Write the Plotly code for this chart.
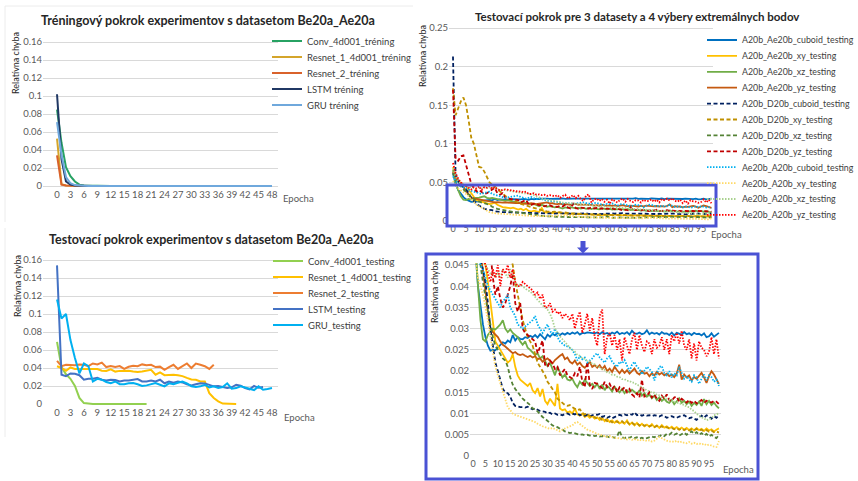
import plotly.graph_objects as go

W, H = 858, 481


def px(x):
    return x / W


def py(y):
    return 1 - y / H


# ---------------- DATA ----------------
left_tick_vals = [0, 3, 6, 9, 12, 15, 18, 21, 24, 27, 30, 33, 36, 39, 42, 45, 48]
left_tick_text = ["0", "3", "6", "9", "12", "15", "18", "21", "24", "27", "30", "33", "36", "39", "42", "45", "48"]
right_tick_vals = [0, 5, 10, 15, 20, 25, 30, 35, 40, 45, 50, 55, 60, 65, 70, 75, 80, 85, 90, 95]
right_tick_text = ["0", "5", "10", "15", "20", "25", "30", "35", "40", "45", "50", "55", "60", "65", "70", "75", "80", "85", "90", "95"]
left_y_vals = [0, 0.02, 0.04, 0.06, 0.08, 0.1, 0.12, 0.14, 0.16]
left_y_text = ["0", "0.02", "0.04", "0.06", "0.08", "0.1", "0.12", "0.14", "0.16"]
tr_y_vals = [0, 0.05, 0.1, 0.15, 0.2, 0.25]
tr_y_text = ["0", "0.05", "0.1", "0.15", "0.2", "0.25"]
br_y_vals = [0, 0.005, 0.01, 0.015, 0.02, 0.025, 0.03, 0.035, 0.04, 0.045]
br_y_text = ["0", "0.005", "0.01", "0.015", "0.02", "0.025", "0.03", "0.035", "0.04", "0.045"]

# Training (top-left), epochs 0..48
conv_train = [0.085, 0.048, 0.021, 0.011, 0.005, 0.0015, 0.0005, 0.0003, 0.0002, 0.0002,
              0.0002, 0.0001, 0.0001, 0.0001, 0.0001, 0.0001, 0.0001, 0.0001, 0.0001, 0.0001,
              0.0001, 0.0001, 0.0001, 0.0001, 0.0001, 0.0001, 0.0001, 0.0001, 0.0001, 0.0001,
              0.0001, 0.0001, 0.0001, 0.0001, 0.0001, 0.0001, 0.0001, 0.0001, 0.0001, 0.0001,
              0.0001, 0.0001, 0.0001, 0.0001, 0.0001, 0.0001, 0.0001, 0.0001, 0.0001]
resnet1_train = [0.0526, 0.002, 0.0006, 0.0003, 0.0002, 0.0001, 0.0001, 0.0001, 0.0001, 0.0001,
                 0.0001, 0.0001, 0.0001, 0.0001, 0.0001, 0.0001, 0.0001, 0.0001, 0.0001, 0.0001,
                 0.0001, 0.0001, 0.0001, 0.0001, 0.0001, 0.0001, 0.0001, 0.0001, 0.0001, 0.0001,
                 0.0001, 0.0001, 0.0001, 0.0001, 0.0001, 0.0001, 0.0001, 0.0001, 0.0001, 0.0001,
                 0.0001, 0.0001, 0.0001, 0.0001, 0.0001, 0.0001, 0.0001, 0.0001, 0.0001]
resnet2_train = [0.034, 0.0015, 0.0006, 0.0003, 0.0002, 0.0001, 0.0001, 0.0001, 0.0001, 0.0001,
                 0.0001, 0.0001, 0.0001, 0.0001, 0.0001, 0.0001, 0.0001, 0.0001, 0.0001, 0.0001,
                 0.0001, 0.0001, 0.0001, 0.0001, 0.0001, 0.0001, 0.0001, 0.0001, 0.0001, 0.0001,
                 0.0001, 0.0001, 0.0001, 0.0001, 0.0001, 0.0001, 0.0001, 0.0001, 0.0001, 0.0001,
                 0.0001, 0.0001, 0.0001, 0.0001, 0.0001, 0.0001, 0.0001, 0.0001, 0.0001]
lstm_train = [0.102, 0.030, 0.005, 0.0015, 0.0005, 0.0002, 0.0001, 0.0001, 0.0001, 0.0001,
              0.0001, 0.0001, 0.0001, 0.0001, 0.0001, 0.0001, 0.0001, 0.0001, 0.0001, 0.0001,
              0.0001, 0.0001, 0.0001, 0.0001, 0.0001, 0.0001, 0.0001, 0.0001, 0.0001, 0.0001,
              0.0001, 0.0001, 0.0001, 0.0001, 0.0001, 0.0001, 0.0001, 0.0001, 0.0001, 0.0001,
              0.0001, 0.0001, 0.0001, 0.0001, 0.0001, 0.0001, 0.0001, 0.0001, 0.0001]
gru_train = [0.071, 0.035, 0.010, 0.003, 0.001, 0.0004, 0.0002, 0.0001, 0.0001, 0.0001,
             0.0001, 0.0001, 0.0001, 0.0001, 0.0001, 0.0001, 0.0001, 0.0001, 0.0001, 0.0001,
             0.0001, 0.0001, 0.0001, 0.0001, 0.0001, 0.0001, 0.0001, 0.0001, 0.0001, 0.0001,
             0.0001, 0.0001, 0.0001, 0.0001, 0.0001, 0.0001, 0.0001, 0.0001, 0.0001, 0.0001,
             0.0001, 0.0001, 0.0001, 0.0001, 0.0001, 0.0001, 0.0001, 0.0001, 0.0001]

# Testing (bottom-left)
conv_test = [0.069, 0.041, 0.033, 0.028, 0.020, 0.0067, 0.001, 0.0002, 0.0001, 0.0001,
             0.0001, 0.0001, 0.0001, 0.0001, 0.0001, 0.0001, 0.0001, 0.0001, 0.0001, 0.0001,
             0.0001]
resnet1_test = [0.042, 0.040, 0.037, 0.0406, 0.039, 0.039, 0.039, 0.0392, 0.039, 0.0388,
                0.037, 0.0368, 0.0386, 0.036, 0.0368, 0.0367, 0.037, 0.036, 0.0355, 0.036,
                0.0368, 0.038, 0.0325, 0.0352, 0.032, 0.0325, 0.0326, 0.032, 0.031, 0.029,
                0.0273, 0.027, 0.025, 0.025, 0.012, 0.0067, 0.003, 0.0005, 0.0001, 0.0001,
                0.0001]
resnet2_test = [0.048, 0.042, 0.0436, 0.0436, 0.043, 0.044, 0.0436, 0.042, 0.045, 0.044,
                0.046, 0.041, 0.0421, 0.041, 0.0421, 0.039, 0.0414, 0.0425, 0.042, 0.044,
                0.043, 0.0436, 0.041, 0.0415, 0.038, 0.041, 0.0436, 0.039, 0.042, 0.045,
                0.040, 0.045, 0.0436, 0.042, 0.039, 0.0436]
lstm_test = [0.154, 0.0325, 0.031, 0.034, 0.0336, 0.032, 0.027, 0.028, 0.028, 0.029,
             0.027, 0.026, 0.027, 0.0266, 0.025, 0.026, 0.026, 0.0266, 0.0277, 0.025,
             0.025, 0.026, 0.025, 0.027, 0.023, 0.025, 0.0236, 0.025, 0.024, 0.022,
             0.0207, 0.022, 0.023, 0.0229, 0.0214, 0.0196, 0.02, 0.0192, 0.0177, 0.0185,
             0.0214, 0.0203, 0.0177, 0.0163, 0.020, 0.018, 0.019]
gru_test = [0.116, 0.095, 0.100, 0.071, 0.051, 0.034, 0.045, 0.042, 0.025, 0.028,
            0.027, 0.0244, 0.023, 0.025, 0.022, 0.022, 0.023, 0.0233, 0.022, 0.020,
            0.0207, 0.022, 0.0233, 0.0214, 0.0196, 0.023, 0.022, 0.0236, 0.025, 0.0229,
            0.0196, 0.0188, 0.0196, 0.0214, 0.0185, 0.0196, 0.0177, 0.0188, 0.023, 0.017,
            0.0177, 0.0196, 0.0185, 0.017, 0.0155, 0.0196, 0.0159, 0.0166, 0.0177]

# Right panels, epochs 0..99
a_cuboid = [0.062, 0.048, 0.040, 0.035, 0.031, 0.028, 0.026, 0.0248, 0.0250, 0.0249,
            0.0255, 0.0262, 0.0268, 0.0265, 0.0272, 0.0268, 0.0285, 0.0272, 0.0280, 0.0276,
            0.0275, 0.0280, 0.0278, 0.0283, 0.0280, 0.0285, 0.0279, 0.0287, 0.0282, 0.0275,
            0.0286, 0.0281, 0.0288, 0.0284, 0.0290, 0.0285, 0.0289, 0.0286, 0.0290, 0.0287,
            0.0291, 0.0288, 0.0292, 0.0286, 0.0290, 0.0289, 0.0291, 0.0290, 0.0290, 0.0289,
            0.0291, 0.0287, 0.0292, 0.0288, 0.0290, 0.0286, 0.0291, 0.0288, 0.0293, 0.0287,
            0.0290, 0.0288, 0.0292, 0.0286, 0.0295, 0.0289, 0.0288, 0.0291, 0.0287, 0.0289,
            0.0296, 0.0287, 0.0291, 0.0288, 0.0290, 0.0286, 0.0292, 0.0288, 0.0289, 0.0285,
            0.0291, 0.0284, 0.0290, 0.0288, 0.0286, 0.0292, 0.0287, 0.0289, 0.0285, 0.0290,
            0.0287, 0.0288, 0.0284, 0.0289, 0.0280, 0.0282, 0.0289, 0.0281, 0.0285, 0.0290]
a_xy = [0.070, 0.058, 0.052, 0.049, 0.047, 0.045, 0.041, 0.036, 0.031, 0.027,
        0.026, 0.025, 0.024, 0.023, 0.022, 0.0225, 0.024, 0.021, 0.019, 0.018,
        0.0175, 0.017, 0.0165, 0.0172, 0.0155, 0.0148, 0.0160, 0.0140, 0.0158, 0.0130,
        0.0122, 0.0135, 0.0125, 0.0118, 0.0170, 0.0112, 0.0108, 0.0110, 0.0102, 0.0105,
        0.0100, 0.0112, 0.0098, 0.0095, 0.0100, 0.0092, 0.0096, 0.0090, 0.0094, 0.0088,
        0.0091, 0.0085, 0.0090, 0.0082, 0.0087, 0.0080, 0.0084, 0.0078, 0.0083, 0.0077,
        0.0080, 0.0076, 0.0084, 0.0074, 0.0079, 0.0072, 0.0078, 0.0071, 0.0076, 0.0070,
        0.0074, 0.0069, 0.0075, 0.0068, 0.0072, 0.0066, 0.0073, 0.0067, 0.0070, 0.0065,
        0.0069, 0.0064, 0.0068, 0.0063, 0.0067, 0.0062, 0.0066, 0.0061, 0.0065, 0.0060,
        0.0066, 0.0061, 0.0064, 0.0059, 0.0065, 0.0060, 0.0063, 0.0058, 0.0062, 0.0065]
a_xz = [0.066, 0.050, 0.040, 0.032, 0.0275, 0.0270, 0.0285, 0.0292, 0.0300, 0.0298,
        0.0303, 0.0310, 0.0320, 0.0300, 0.0292, 0.0298, 0.0290, 0.0285, 0.0280, 0.0270,
        0.0262, 0.0270, 0.0255, 0.0250, 0.0245, 0.0238, 0.0242, 0.0230, 0.0235, 0.0222,
        0.0212, 0.0220, 0.0205, 0.0190, 0.0210, 0.0198, 0.0185, 0.0192, 0.0180, 0.0178,
        0.0182, 0.0170, 0.0162, 0.0175, 0.0168, 0.0180, 0.0172, 0.0165, 0.0170, 0.0162,
        0.0170, 0.0158, 0.0168, 0.0155, 0.0165, 0.0160, 0.0152, 0.0163, 0.0155, 0.0150,
        0.0158, 0.0148, 0.0155, 0.0150, 0.0156, 0.0152, 0.0146, 0.0155, 0.0142, 0.0148,
        0.0140, 0.0145, 0.0136, 0.0142, 0.0132, 0.0138, 0.0130, 0.0135, 0.0128, 0.0125,
        0.0132, 0.0122, 0.0128, 0.0136, 0.0125, 0.0130, 0.0122, 0.0128, 0.0118, 0.0125,
        0.0120, 0.0128, 0.0118, 0.0134, 0.0122, 0.0130, 0.0120, 0.0126, 0.0118, 0.0112]
a_yz = [0.064, 0.056, 0.051, 0.048, 0.044, 0.039, 0.034, 0.0300, 0.0292, 0.0285,
        0.0280, 0.0270, 0.0262, 0.0258, 0.0252, 0.0248, 0.0242, 0.0245, 0.0240, 0.0238,
        0.0240, 0.0236, 0.0233, 0.0236, 0.0232, 0.0235, 0.0228, 0.0230, 0.0222, 0.0226,
        0.0230, 0.0224, 0.0218, 0.0226, 0.0232, 0.0236, 0.0240, 0.0228, 0.0232, 0.0222,
        0.0218, 0.0225, 0.0215, 0.0220, 0.0212, 0.0208, 0.0215, 0.0222, 0.0210, 0.0214,
        0.0208, 0.0214, 0.0205, 0.0212, 0.0200, 0.0206, 0.0198, 0.0210, 0.0202, 0.0195,
        0.0203, 0.0196, 0.0202, 0.0194, 0.0200, 0.0206, 0.0196, 0.0192, 0.0200, 0.0194,
        0.0196, 0.0188, 0.0195, 0.0190, 0.0198, 0.0192, 0.0196, 0.0190, 0.0194, 0.0188,
        0.0192, 0.0186, 0.0194, 0.0215, 0.0180, 0.0192, 0.0185, 0.0190, 0.0178, 0.0186,
        0.0182, 0.0190, 0.0196, 0.0185, 0.0172, 0.0188, 0.0200, 0.0192, 0.0180, 0.0170]
d_cuboid = [0.213, 0.060, 0.052, 0.046, 0.044, 0.041, 0.036, 0.030, 0.026, 0.022,
            0.020, 0.018, 0.0158, 0.0150, 0.0148, 0.0140, 0.0125, 0.0118, 0.0116, 0.0115,
            0.0115, 0.0114, 0.0116, 0.0112, 0.0110, 0.0112, 0.0108, 0.0106, 0.0105, 0.0104,
            0.0100, 0.0102, 0.0098, 0.0100, 0.0097, 0.0098, 0.0096, 0.0099, 0.0100, 0.0097,
            0.0100, 0.0098, 0.0101, 0.0096, 0.0098, 0.0095, 0.0097, 0.0094, 0.0096, 0.0098,
            0.0097, 0.0099, 0.0092, 0.0094, 0.0090, 0.0093, 0.0089, 0.0092, 0.0094, 0.0097,
            0.0095, 0.0098, 0.0096, 0.0099, 0.0097, 0.0103, 0.0096, 0.0098, 0.0095, 0.0097,
            0.0095, 0.0096, 0.0094, 0.0096, 0.0095, 0.0093, 0.0096, 0.0094, 0.0090, 0.0092,
            0.0094, 0.0091, 0.0090, 0.0093, 0.0095, 0.0096, 0.0092, 0.0089, 0.0091, 0.0088,
            0.0085, 0.0092, 0.0095, 0.0090, 0.0096, 0.0093, 0.0088, 0.0094, 0.0090, 0.0096]
d_xy = [0.172, 0.137, 0.146, 0.155, 0.160, 0.150, 0.130, 0.108, 0.100, 0.085,
        0.070, 0.069, 0.064, 0.057, 0.050, 0.047, 0.045, 0.041, 0.038, 0.035,
        0.032, 0.030, 0.028, 0.027, 0.026, 0.024, 0.022, 0.021, 0.020, 0.019,
        0.0175, 0.0165, 0.0158, 0.0150, 0.0135, 0.0130, 0.0125, 0.0120, 0.0118, 0.0120,
        0.0115, 0.0112, 0.0108, 0.0110, 0.0102, 0.0098, 0.0100, 0.0094, 0.0090, 0.0092,
        0.0088, 0.0090, 0.0085, 0.0087, 0.0082, 0.0084, 0.0079, 0.0083, 0.0080, 0.0078,
        0.0082, 0.0077, 0.0080, 0.0075, 0.0078, 0.0074, 0.0077, 0.0072, 0.0075, 0.0071,
        0.0073, 0.0070, 0.0072, 0.0068, 0.0071, 0.0067, 0.0070, 0.0066, 0.0068, 0.0065,
        0.0066, 0.0063, 0.0066, 0.0062, 0.0065, 0.0061, 0.0064, 0.0060, 0.0063, 0.0061,
        0.0064, 0.0060, 0.0062, 0.0058, 0.0061, 0.0057, 0.0060, 0.0056, 0.0058, 0.0055]
d_xz = [0.062, 0.052, 0.047, 0.045, 0.041, 0.037, 0.034, 0.031, 0.028, 0.026,
        0.025, 0.024, 0.023, 0.0225, 0.021, 0.0185, 0.0168, 0.0158, 0.0150, 0.0142,
        0.0135, 0.0130, 0.0125, 0.0120, 0.0112, 0.0110, 0.0105, 0.0098, 0.0092, 0.0088,
        0.0082, 0.0078, 0.0072, 0.0070, 0.0068, 0.0064, 0.0062, 0.0058, 0.0056, 0.0054,
        0.0055, 0.0053, 0.0052, 0.0050, 0.0051, 0.0049, 0.0050, 0.0048, 0.0049, 0.0047,
        0.0048, 0.0046, 0.0047, 0.0045, 0.0046, 0.0044, 0.0045, 0.0043, 0.0046, 0.0060,
        0.0044, 0.0042, 0.0045, 0.0043, 0.0046, 0.0042, 0.0044, 0.0041, 0.0043, 0.0040,
        0.0042, 0.0044, 0.0046, 0.0044, 0.0048, 0.0046, 0.0050, 0.0047, 0.0052, 0.0050,
        0.0055, 0.0050, 0.0053, 0.0048, 0.0052, 0.0055, 0.0050, 0.0054, 0.0058, 0.0052,
        0.0056, 0.0050, 0.0054, 0.0048, 0.0052, 0.0046, 0.0050, 0.0045, 0.0042, 0.0050]
d_yz = [0.170, 0.080, 0.078, 0.084, 0.085, 0.072, 0.058, 0.048, 0.042, 0.038,
        0.040, 0.037, 0.035, 0.036, 0.038, 0.040, 0.043, 0.036, 0.034, 0.036,
        0.030, 0.029, 0.0285, 0.0280, 0.0275, 0.0270, 0.0242, 0.0255, 0.0272, 0.0215,
        0.0210, 0.0225, 0.0218, 0.0205, 0.0210, 0.0190, 0.0198, 0.0205, 0.0190, 0.0185,
        0.0182, 0.0195, 0.0188, 0.0210, 0.0175, 0.0162, 0.0222, 0.0168, 0.0158, 0.0172,
        0.0170, 0.0165, 0.0160, 0.0175, 0.0162, 0.0170, 0.0158, 0.0165, 0.0150, 0.0162,
        0.0156, 0.0162, 0.0150, 0.0158, 0.0145, 0.0140, 0.0148, 0.0138, 0.0180, 0.0140,
        0.0142, 0.0150, 0.0138, 0.0145, 0.0135, 0.0130, 0.0142, 0.0135, 0.0145, 0.0132,
        0.0130, 0.0138, 0.0140, 0.0128, 0.0135, 0.0130, 0.0126, 0.0132, 0.0125, 0.0130,
        0.0124, 0.0128, 0.0132, 0.0125, 0.0130, 0.0128, 0.0126, 0.0130, 0.0128, 0.0122]
e_cuboid = [0.058, 0.052, 0.048, 0.045, 0.044, 0.042, 0.040, 0.039, 0.038, 0.037,
            0.036, 0.035, 0.0365, 0.037, 0.038, 0.035, 0.034, 0.033, 0.031, 0.0305,
            0.030, 0.0305, 0.031, 0.0315, 0.032, 0.033, 0.031, 0.030, 0.029, 0.030,
            0.0310, 0.0295, 0.0285, 0.0300, 0.0280, 0.0270, 0.0265, 0.0260, 0.0258, 0.0255,
            0.0250, 0.0240, 0.0225, 0.0235, 0.0228, 0.0232, 0.0220, 0.0225, 0.0230, 0.0238,
            0.0242, 0.0232, 0.0226, 0.0220, 0.0230, 0.0235, 0.0222, 0.0215, 0.0210, 0.0222,
            0.0218, 0.0226, 0.0212, 0.0200, 0.0215, 0.0222, 0.0210, 0.0205, 0.0192, 0.0200,
            0.0210, 0.0205, 0.0198, 0.0178, 0.0195, 0.0210, 0.0212, 0.0195, 0.0190, 0.0200,
            0.0185, 0.0195, 0.0190, 0.0210, 0.0195, 0.0182, 0.0188, 0.0180, 0.0175, 0.0190,
            0.0185, 0.0170, 0.0182, 0.0192, 0.0178, 0.0190, 0.0186, 0.0175, 0.0180, 0.0165]
e_xy = [0.052, 0.046, 0.042, 0.040, 0.038, 0.035, 0.032, 0.028, 0.024, 0.021,
        0.019, 0.017, 0.015, 0.013, 0.0115, 0.0108, 0.0100, 0.0097, 0.0095, 0.0092,
        0.0090, 0.0088, 0.0086, 0.0085, 0.0082, 0.0080, 0.0076, 0.0072, 0.0070, 0.0068,
        0.0066, 0.0064, 0.0066, 0.0063, 0.0060, 0.0058, 0.0062, 0.0065, 0.0068, 0.0070,
        0.0072, 0.0078, 0.0080, 0.0075, 0.0070, 0.0066, 0.0062, 0.0060, 0.0058, 0.0055,
        0.0052, 0.0050, 0.0048, 0.0046, 0.0045, 0.0047, 0.0044, 0.0042, 0.0043, 0.0041,
        0.0040, 0.0042, 0.0039, 0.0041, 0.0038, 0.0040, 0.0037, 0.0039, 0.0036, 0.0038,
        0.0035, 0.0037, 0.0034, 0.0036, 0.0040, 0.0045, 0.0042, 0.0038, 0.0036, 0.0034,
        0.0035, 0.0033, 0.0036, 0.0032, 0.0034, 0.0031, 0.0030, 0.0033, 0.0029, 0.0031,
        0.0028, 0.0030, 0.0027, 0.0029, 0.0025, 0.0027, 0.0024, 0.0022, 0.0021, 0.0035]
e_xz = [0.068, 0.058, 0.052, 0.048, 0.046, 0.045, 0.044, 0.043, 0.043, 0.042,
        0.043, 0.042, 0.044, 0.043, 0.042, 0.044, 0.043, 0.041, 0.040, 0.0405,
        0.0400, 0.0395, 0.0390, 0.0388, 0.0380, 0.0375, 0.0368, 0.0360, 0.0355, 0.0350,
        0.0345, 0.0335, 0.0320, 0.0300, 0.0290, 0.0282, 0.0275, 0.0268, 0.0260, 0.0255,
        0.0250, 0.0246, 0.0238, 0.0236, 0.0230, 0.0229, 0.0224, 0.0223, 0.0217, 0.0216,
        0.0211, 0.0209, 0.0204, 0.0203, 0.0197, 0.0196, 0.0191, 0.0191, 0.0187, 0.0186,
        0.0181, 0.0181, 0.0177, 0.0177, 0.0173, 0.0173, 0.0167, 0.0166, 0.0161, 0.0159,
        0.0154, 0.0153, 0.0149, 0.0149, 0.0144, 0.0143, 0.0139, 0.0139, 0.0134, 0.0133,
        0.0129, 0.0129, 0.0125, 0.0125, 0.0121, 0.0121, 0.0116, 0.0115, 0.0109, 0.0106,
        0.0099, 0.0096, 0.0091, 0.0089, 0.0084, 0.0087, 0.0089, 0.0096, 0.0097, 0.0102]
e_yz = [0.075, 0.062, 0.055, 0.050, 0.047, 0.045, 0.043, 0.041, 0.044, 0.042,
        0.045, 0.040, 0.044, 0.043, 0.045, 0.042, 0.044, 0.041, 0.040, 0.040,
        0.041, 0.0405, 0.040, 0.0395, 0.039, 0.038, 0.0385, 0.037, 0.038, 0.035,
        0.0350, 0.0360, 0.0340, 0.0345, 0.0335, 0.0340, 0.0325, 0.0335, 0.0330, 0.0320,
        0.0335, 0.0300, 0.0325, 0.0340, 0.0290, 0.0310, 0.0335, 0.0295, 0.0325, 0.0280,
        0.0260, 0.0330, 0.0345, 0.0240, 0.0280, 0.0290, 0.0260, 0.0285, 0.0250, 0.0275,
        0.0225, 0.0280, 0.0260, 0.0240, 0.0275, 0.0290, 0.0250, 0.0285, 0.0260, 0.0245,
        0.0270, 0.0265, 0.0240, 0.0275, 0.0255, 0.0260, 0.0280, 0.0250, 0.0275, 0.0240,
        0.0285, 0.0270, 0.0290, 0.0265, 0.0295, 0.0260, 0.0250, 0.0275, 0.0230, 0.0265,
        0.0225, 0.0270, 0.0255, 0.0250, 0.0235, 0.0245, 0.0280, 0.0240, 0.0275, 0.0230]

# ---------------- STYLE ----------------
FONT = "Lato, 'Noto Sans', sans-serif"
TICK_COL = "#595959"
GRID_COL = "#d9d9d9"
BOX_COL = "#4a52d4"
LEGEND_DY = -2
LEGEND_TEXT_OFFSET = 40

fig = go.Figure()
legend_layouts = {}
legend_counter = [0]


def add_legend(x_text, y_center, size):
    legend_counter[0] += 1
    n = legend_counter[0]
    key = "legend" if n == 1 else "legend%d" % n
    legend_layouts[key] = dict(
        x=px(x_text - LEGEND_TEXT_OFFSET), y=py(y_center + LEGEND_DY),
        xanchor="left", yanchor="middle",
        bgcolor="rgba(0,0,0,0)", borderwidth=0,
        font=dict(family=FONT, size=size, color="#404040"),
        itemclick=False, itemdoubleclick=False,
    )
    return key


def add_line(x, y, name, color, xa, ya, dash="solid", width=2, legend_pos=None, lsize=9.5):
    kw = {}
    if legend_pos is not None:
        kw["legend"] = add_legend(legend_pos[0], legend_pos[1], lsize)
        kw["showlegend"] = True
    else:
        kw["showlegend"] = False
    fig.add_trace(go.Scatter(
        x=x, y=y, name=name, mode="lines",
        line=dict(color=color, width=width, dash=dash),
        xaxis=xa, yaxis=ya, hoverinfo="skip", **kw))


# Top-left: training
tl = [("Conv_4d001_tréning", conv_train, "#27a263"),
      ("Resnet_1_4d001_tréning", resnet1_train, "#d4a52b"),
      ("Resnet_2_tréning", resnet2_train, "#d9622b"),
      ("LSTM tréning", lstm_train, "#203864"),
      ("GRU tréning", gru_train, "#6fa8dc")]
for i, (nm, ys, col) in enumerate(tl):
    add_line(list(range(len(ys))), ys, nm, col, "x", "y",
             legend_pos=(307, 43 + 16 * i))

# Bottom-left: testing
bl = [("Conv_4d001_testing", conv_test, "#92d050"),
      ("Resnet_1_4d001_testing", resnet1_test, "#ffc000"),
      ("Resnet_2_testing", resnet2_test, "#ed7d31"),
      ("LSTM_testing", lstm_test, "#4472c4"),
      ("GRU_testing", gru_test, "#00b0f0")]
for i, (nm, ys, col) in enumerate(bl):
    add_line(list(range(len(ys))), ys, nm, col, "x2", "y2",
             legend_pos=(308, 263 + 16 * i))

# Right panels
DASH = "4px,2.5px"
DOT = "1.5px,1.5px"
rs = [("A20b_Ae20b_cuboid_testing", a_cuboid, "#0070c0", "solid"),
      ("A20b_Ae20b_xy_testing", a_xy, "#ffc000", "solid"),
      ("A20b_Ae20b_xz_testing", a_xz, "#70ad47", "solid"),
      ("A20b_Ae20b_yz_testing", a_yz, "#c55a11", "solid"),
      ("A20b_D20b_cuboid_testing", d_cuboid, "#002060", DASH),
      ("A20b_D20b_xy_testing", d_xy, "#bf9000", DASH),
      ("A20b_D20b_xz_testing", d_xz, "#548235", DASH),
      ("A20b_D20b_yz_testing", d_yz, "#c00000", DASH),
      ("Ae20b_A20b_cuboid_testing", e_cuboid, "#00b0f0", DOT),
      ("Ae20b_A20b_xy_testing", e_xy, "#ffd966", DOT),
      ("Ae20b_A20b_xz_testing", e_xz, "#a9d18e", DOT),
      ("Ae20b_A20b_yz_testing", e_yz, "#ff0000", DOT)]
for i, (nm, ys, col, dash) in enumerate(rs):
    add_line(list(range(len(ys))), ys, nm, col, "x3", "y3", dash=dash, width=1.8,
             legend_pos=(742, 42 + 15.9 * i), lsize=8.8)
for i, (nm, ys, col, dash) in enumerate(rs):
    add_line(list(range(len(ys))), ys, nm, col, "x4", "y4", dash=dash, width=1.8)

# ---------------- AXES ----------------
tickfont = dict(family=FONT, size=9.5, color=TICK_COL)
tickfont_r = dict(family=FONT, size=9, color=TICK_COL)


def xax(dom, rng, tv, tt, anchor, tf):
    return dict(domain=[px(dom[0]), px(dom[1])], range=rng, anchor=anchor,
                tickvals=tv, ticktext=tt, showgrid=False, zeroline=False,
                showline=False, ticks="", tickangle=0, tickfont=tf,
                fixedrange=True)


def yax(dom, rng, tv, tt, anchor):
    return dict(domain=[py(dom[1]), py(dom[0])], range=rng, anchor=anchor,
                tickvals=tv, ticktext=tt, showgrid=True, gridcolor=GRID_COL,
                gridwidth=1, zeroline=False, showline=False, ticks="",
                tickfont=tickfont, fixedrange=True)


layout = dict(
    width=W, height=H, autosize=False,
    margin=dict(l=0, r=0, t=0, b=0, autoexpand=False),
    paper_bgcolor="white", plot_bgcolor="white",
    font=dict(family=FONT),
    xaxis=xax((43, 278), [-3.13, 49.34], left_tick_vals, left_tick_text, "y", tickfont),
    yaxis=yax((40, 187), [-0.00111, 0.16222], left_y_vals, left_y_text, "x"),
    xaxis2=xax((43, 278), [-3.13, 49.34], left_tick_vals, left_tick_text, "y2", tickfont),
    yaxis2=yax((258, 405), [-0.00111, 0.16222], left_y_vals, left_y_text, "x2"),
    xaxis3=xax((449, 712.7), [-1.53, 99.48], right_tick_vals, right_tick_text, "y3", tickfont_r),
    yaxis3=yax((26, 222), [-0.0013, 0.2526], tr_y_vals, tr_y_text, "x3"),
    xaxis4=xax((470, 721.4), [-1.21, 99.99], right_tick_vals, right_tick_text, "y4", tickfont_r),
    yaxis4=yax((263, 457), [-0.000236, 0.04547], br_y_vals, br_y_text, "x4"),
)
layout.update(legend_layouts)

annotations = []


def text(x, y, s, size=9.5, bold=False, color=TICK_COL, angle=0, xanchor="center"):
    annotations.append(dict(
        x=px(x), y=py(y), xref="paper", yref="paper", text=s, showarrow=False,
        xanchor=xanchor, yanchor="middle", textangle=angle,
        font=dict(family=FONT, size=size, color=color,
                  weight="bold" if bold else "normal")))


text(208, 20, "Tréningový pokrok experimentov s datasetom Be20a_Ae20a", size=12.5, bold=True, color="#262626")
text(211, 239, "Testovací pokrok experimentov s datasetom Be20a_Ae20a", size=12.5, bold=True, color="#262626")
text(637, 16, "Testovací pokrok pre 3 datasety a 4 výbery extremálnych bodov", size=11.5, bold=True, color="#262626")
text(15, 63, "Relatívna chyba", size=9, color="#262626", angle=-90)
text(17, 286, "Relatívna chyba", size=9, color="#262626", angle=-90)
text(422, 56, "Relatívna chyba", size=9, color="#262626", angle=-90)
text(434, 292, "Relatívna chyba", size=9, color="#262626", angle=-90)
text(281, 198, "Epocha", xanchor="left")
text(282, 417, "Epocha", xanchor="left")
text(709, 234, "Epocha", xanchor="left")
text(721, 469, "Epocha", xanchor="left")
layout["annotations"] = annotations

shapes = []


def rect(x0, y0, x1, y1, color, width):
    shapes.append(dict(type="rect", xref="paper", yref="paper",
                       x0=px(x0), x1=px(x1), y0=py(y0), y1=py(y1),
                       line=dict(color=color, width=width), fillcolor="rgba(0,0,0,0)"))


def seg(x0, y0, x1, y1, color, width):
    shapes.append(dict(type="line", xref="paper", yref="paper",
                       x0=px(x0), x1=px(x1), y0=py(y0), y1=py(y1),
                       line=dict(color=color, width=width)))


# faint chart borders (left charts)
seg(5, 6, 413, 6, "#ececec", 1)
seg(5, 6, 5, 222, "#ececec", 1)
seg(5, 228, 5, 437, "#ececec", 1)
# blue zoom boxes
rect(447, 185, 716, 226, BOX_COL, 3)
rect(426, 254, 758, 479, BOX_COL, 3)
# arrow
arrow_path = "M %f %f L %f %f L %f %f L %f %f L %f %f L %f %f L %f %f Z" % (
    px(580.5), py(241), px(585.5), py(241), px(585.5), py(247.5),
    px(589), py(247.5), px(583), py(253.5), px(577), py(247.5), px(580.5), py(247.5))
shapes.append(dict(type="path", xref="paper", yref="paper", path=arrow_path,
                   fillcolor=BOX_COL, line=dict(width=0)))
layout["shapes"] = shapes

fig.update_layout(**layout)
fig.write_html("out.html",
               config={"displayModeBar": False, "staticPlot": False},
               post_script="document.body.style.margin='0px';document.body.style.padding='0px';")
